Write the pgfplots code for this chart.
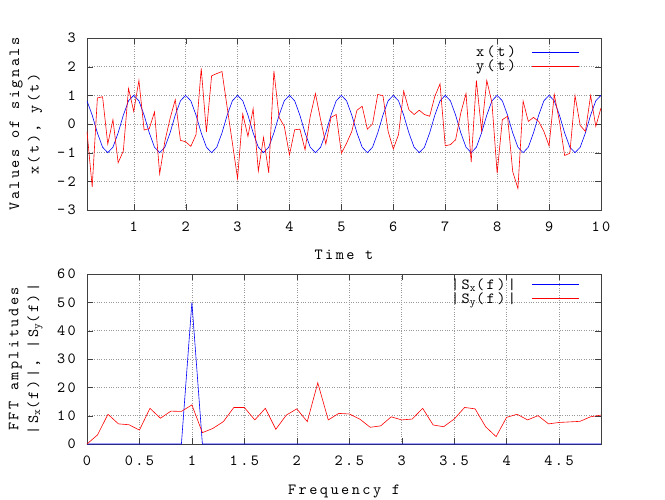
\documentclass[border=0pt]{standalone}
\usepackage{fontspec}
\setmonofont{lmmono10-regular.otf}[LetterSpace=16]
\usepackage{pgfplots}
\usepackage{pgfplotstable}
\pgfplotsset{compat=1.18}

\pgfplotstableread{
t xs ys
0.1 0.809 -0.26
0.2 0.309 -2.19
0.3 -0.309 0.91
0.4 -0.809 0.95
0.5 -1 -0.70
0.6 -0.809 0.15
0.7 -0.309 -1.35
0.8 0.309 -0.94
0.9 0.809 1.24
1.0 1 0.44
1.1 0.809 1.52
1.2 0.309 -0.21
1.3 -0.309 -0.16
1.4 -0.809 0.42
1.5 -1 -1.74
1.6 -0.809 -0.60
1.7 -0.309 0.19
1.8 0.309 0.85
1.9 0.809 -0.57
2.0 1 -0.62
2.1 0.809 -0.78
2.2 0.309 -0.37
2.3 -0.309 1.94
2.4 -0.809 -0.28
2.5 -1 1.68
2.6 -0.809 1.76
2.7 -0.309 1.83
2.8 0.309 0.58
2.9 0.809 -0.66
3.0 1 -1.90
3.1 0.809 0.35
3.2 0.309 -0.43
3.3 -0.309 0.53
3.4 -0.809 -1.64
3.5 -1 -0.47
3.6 -0.809 -1.70
3.7 -0.309 1.85
3.8 0.309 0.23
3.9 0.809 -0.08
4.0 1 -1.08
4.1 0.809 -0.20
4.2 0.309 -0.18
4.3 -0.309 -0.90
4.4 -0.809 0.27
4.5 -1 1.06
4.6 -0.809 0.15
4.7 -0.309 -0.70
4.8 0.309 0.23
4.9 0.809 0.33
5.0 1 -1.02
5.1 0.809 -0.67
5.2 0.309 -0.26
5.3 -0.309 0.48
5.4 -0.809 0.62
5.5 -1 -0.18
5.6 -0.809 0.00
5.7 -0.309 1.03
5.8 0.309 0.99
5.9 0.809 -0.26
6.0 1 -0.87
6.1 0.809 -0.37
6.2 0.309 1.15
6.3 -0.309 0.50
6.4 -0.809 0.33
6.5 -1 0.48
6.6 -0.809 0.33
6.7 -0.309 0.27
6.8 0.309 0.97
6.9 0.809 1.40
7.0 1 -0.76
7.1 0.809 -0.72
7.2 0.309 -0.55
7.3 -0.309 0.39
7.4 -0.809 1.06
7.5 -1 -1.33
7.6 -0.809 1.52
7.7 -0.309 -0.23
7.8 0.309 1.52
7.9 0.809 0.74
8.0 1 -1.72
8.1 0.809 0.15
8.2 0.309 0.27
8.3 -0.309 -1.66
8.4 -0.809 -2.25
8.5 -1 0.80
8.6 -0.809 0.09
8.7 -0.309 0.23
8.8 0.309 0.09
8.9 0.809 -0.26
9.0 1 -0.76
9.1 0.809 1.03
9.2 0.309 0.09
9.3 -0.309 -1.10
9.4 -0.809 -1.02
9.5 -1 0.99
9.6 -0.809 -0.05
9.7 -0.309 -0.26
9.8 0.309 0.99
9.9 0.809 -0.08
10.0 1 0.56
}\signals

\pgfplotstableread{
f sx sy
0.0 0 0
0.1 0 3.2
0.2 0 10.5
0.3 0 7.1
0.4 0 6.8
0.5 0 4.9
0.6 0 12.6
0.7 0 9.1
0.8 0 11.6
0.9 0 11.5
1.0 50 13.8
1.1 0 4.0
1.2 0 5.5
1.3 0 7.9
1.4 0 12.9
1.5 0 12.9
1.6 0 8.5
1.7 0 12.6
1.8 0 5.2
1.9 0 10.2
2.0 0 12.4
2.1 0 7.9
2.2 0 21.6
2.3 0 8.5
2.4 0 10.8
2.5 0 10.6
2.6 0 8.8
2.7 0 5.9
2.8 0 6.4
2.9 0 9.6
3.0 0 8.5
3.1 0 8.8
3.2 0 12.6
3.3 0 6.7
3.4 0 6.1
3.5 0 8.8
3.6 0 12.9
3.7 0 12.4
3.8 0 6.1
3.9 0 2.6
4.0 0 9.4
4.1 0 10.5
4.2 0 8.5
4.3 0 10.0
4.4 0 7.1
4.5 0 7.6
4.6 0 7.8
4.7 0 8.0
4.8 0 9.6
4.9 0 10.2
}\spectra

\pgfplotsset{
  gp/.style={
    scale only axis,
    width=514pt,
    anchor=south west,
    font=\ttfamily\fontsize{15.5}{19.5}\selectfont,
    /pgf/number format/assume math mode=true,
    axis line style={black!75},
    tick style={black!75},
    tick align=inside,
    tick pos=both,
    major tick length=6pt,
    grid=major,
    major grid style={dotted, gray!80},
    xticklabel style={inner sep=0pt, anchor=north, yshift=-12pt},
    yticklabel style={inner sep=0pt, anchor=east, xshift=-11pt},
    ylabel style={at={(axis description cs:-0.119,0.5)}, anchor=center, align=center, inner sep=0pt},
    legend style={draw=none, fill=none, anchor=north east, inner sep=0pt,
      row sep=0pt, column sep=15pt, nodes={inner sep=1pt},
      font=\ttfamily\fontsize{15.5}{19.5}\selectfont},
    legend cell align=right,
    legend plot pos=right,
    legend image code/.code={\draw[#1] (0pt,0pt) -- (47pt,0pt);},
  }
}

\begin{document}
\begin{tikzpicture}
\useasboundingbox (0pt,0pt) rectangle (665pt,499pt);
\begin{axis}[gp,
  at={(87pt,289pt)}, height=172pt,
  xmin=0.1, xmax=10, ymin=-3, ymax=3,
  xtick={1,2,...,10}, ytick={-3,-2,...,3},
  xlabel={Time t},
  xlabel style={at={(axis description cs:0.5,0)}, anchor=center, yshift=-45pt},
  ylabel={Values of signals\\x(t), y(t)},
  legend style={at={(rel axis cs:0.959,0.962)}},
]
\addlegendimage{draw=blue, line width=0.7pt}
\addlegendentry{x(t)}
\addlegendimage{draw=red, line width=0.7pt}
\addlegendentry{y(t)}
\addplot[draw=blue, line width=0.6pt, forget plot] table[x=t, y=xs] {\signals};
\addplot[draw=red, line width=0.6pt, forget plot] table[x=t, y=ys] {\signals};
\end{axis}

\begin{axis}[gp,
  at={(87pt,55pt)}, height=170pt,
  xmin=0, xmax=4.9, ymin=0, ymax=60,
  xtick={0,0.5,...,4.5}, ytick={0,10,...,60},
  xticklabel style={/pgf/number format/fixed},
  xlabel={Frequency f},
  xlabel style={at={(axis description cs:0.5,0)}, anchor=center, yshift=-47pt},
  ylabel={FFT amplitudes\\|S\textsubscript{x}(f)|, |S\textsubscript{y}(f)|},
  legend style={at={(rel axis cs:0.959,0.982)}},
]
\addlegendimage{draw=blue, line width=0.7pt}
\addlegendentry{|S\textsubscript{x}(f)|}
\addlegendimage{draw=red, line width=0.7pt}
\addlegendentry{|S\textsubscript{y}(f)|}
\addplot[draw=blue, line width=0.6pt, forget plot] table[x=f, y=sx] {\spectra};
\addplot[draw=red, line width=0.6pt, forget plot] table[x=f, y=sy] {\spectra};
\end{axis}
\end{tikzpicture}
\end{document}
